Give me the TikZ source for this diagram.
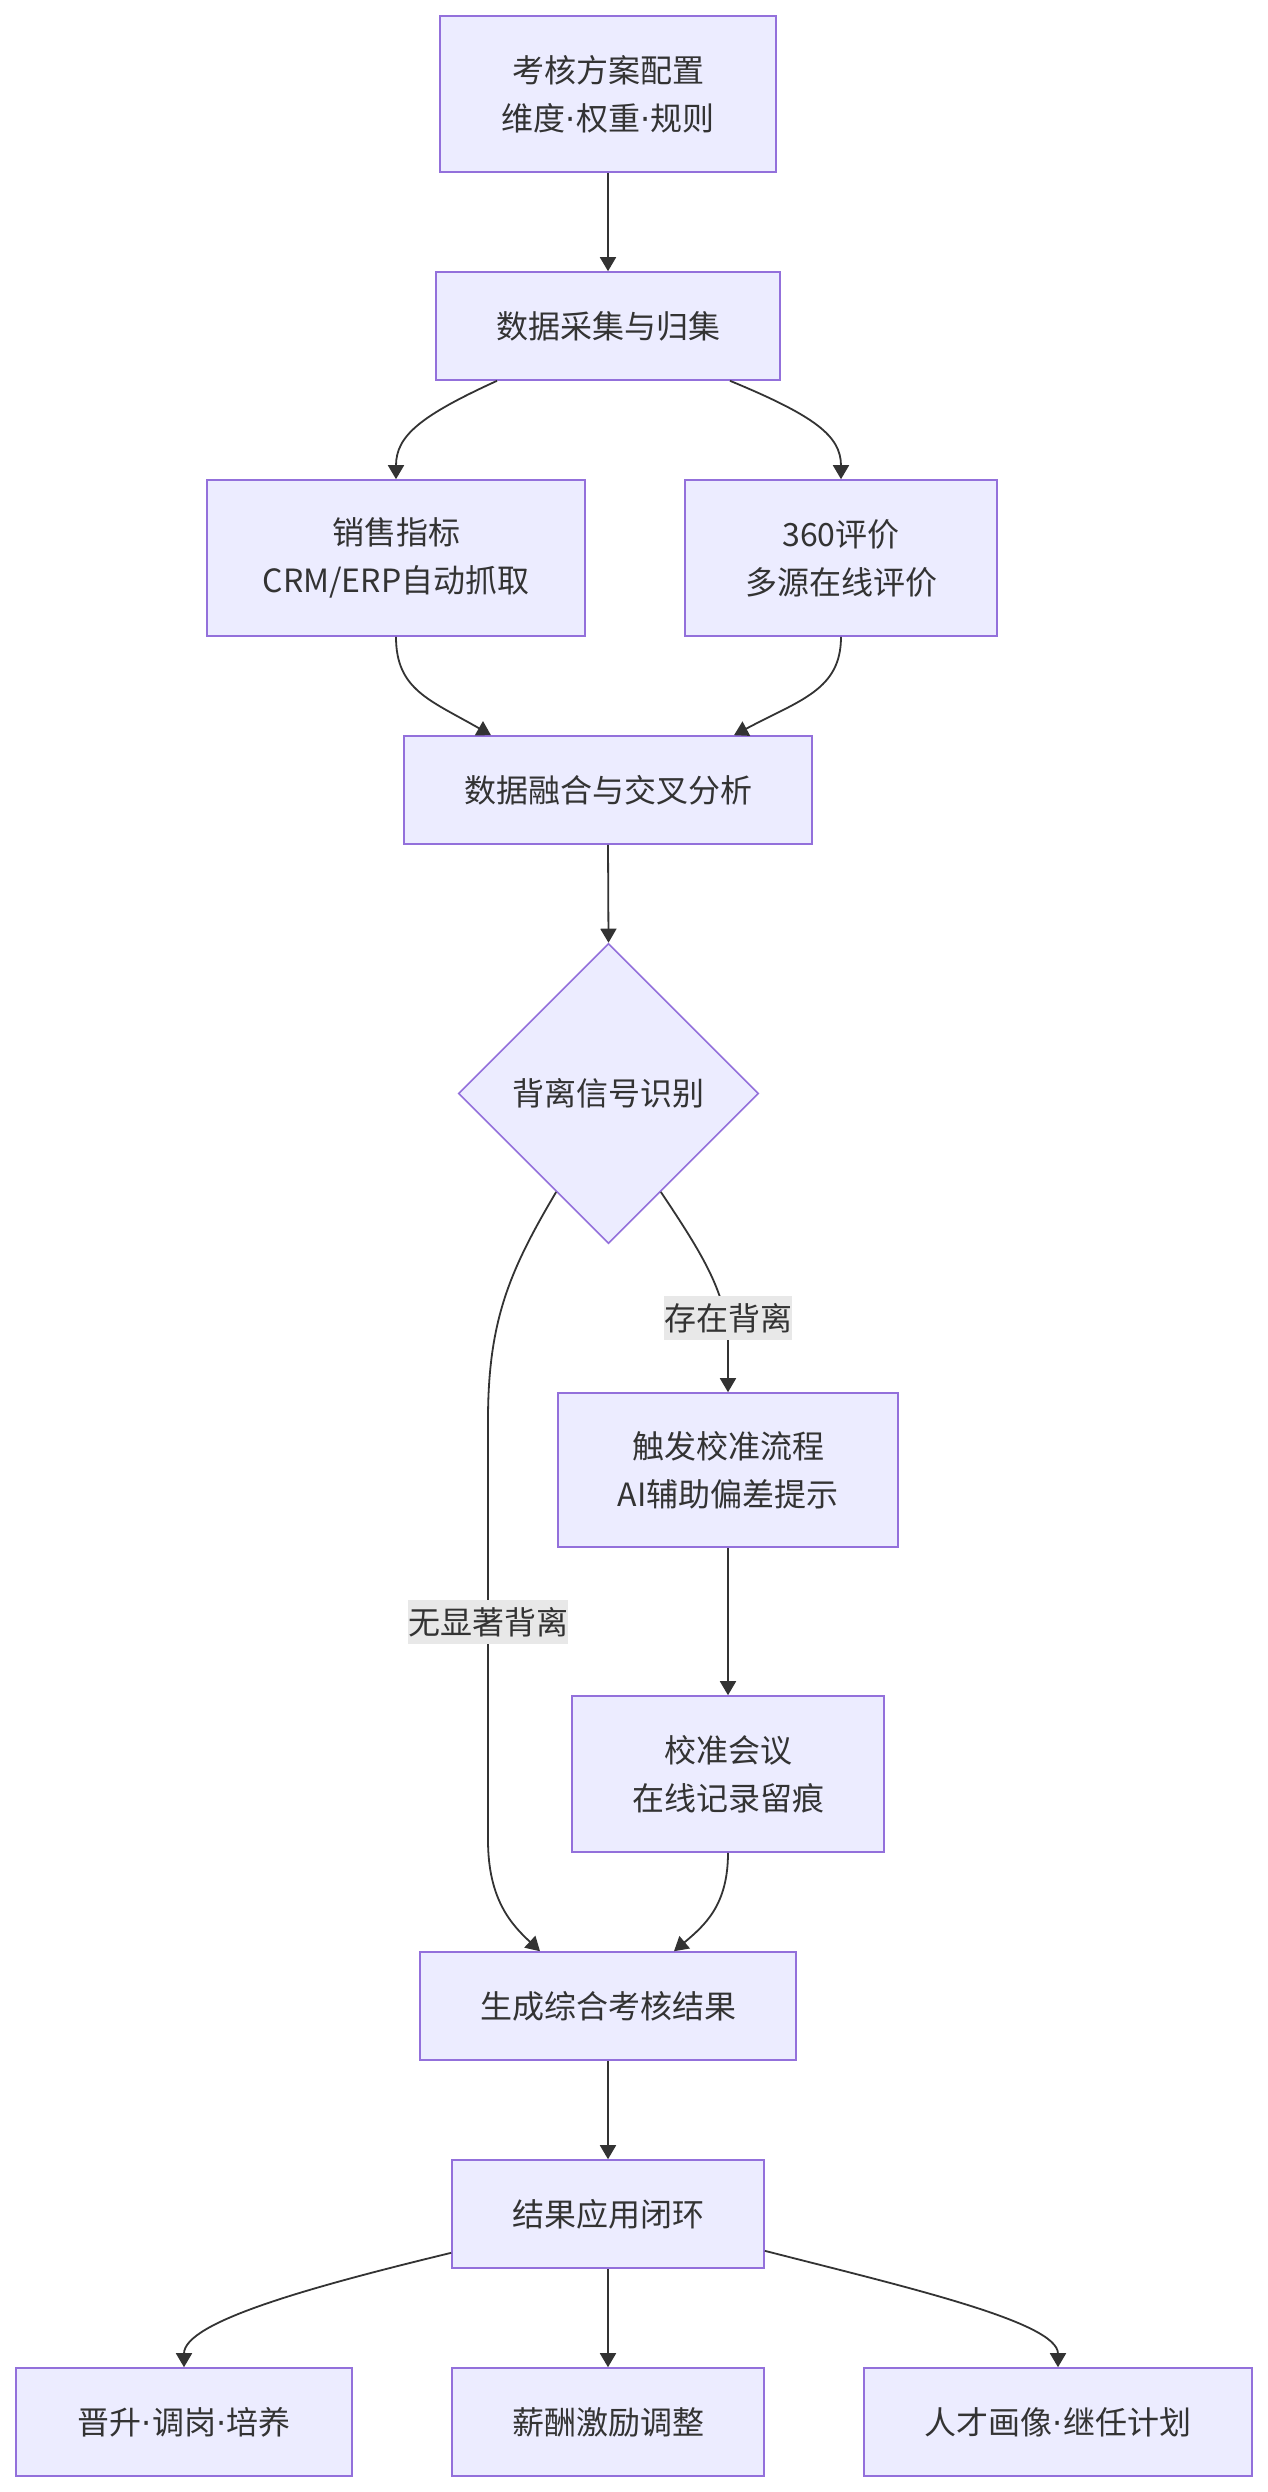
\documentclass[tikz,border=0pt]{standalone}
\usepackage{fontspec}
\setmainfont{Noto Sans CJK SC}
\newfontfamily\dotfont{DejaVu Sans}
\newcommand{\mydot}{{\dotfont ·}}
\usetikzlibrary{shapes.geometric,arrows.meta}
\definecolor{nodefill}{HTML}{ECECFF}
\definecolor{nodeline}{HTML}{9370DB}
\definecolor{ink}{HTML}{333333}
\definecolor{lblbg}{HTML}{E8E8E8}
\begin{document}
\begin{tikzpicture}[x=1pt,y=-1pt,
  box/.style={draw=nodeline, fill=nodefill, line width=1.6pt, inner sep=0pt,
    align=center, text=ink, font=\fontsize{32pt}{48pt}\selectfont},
  decide/.style={diamond, aspect=1, draw=nodeline, fill=nodefill, line width=1.6pt,
    inner sep=0pt, minimum width=300pt, minimum height=300pt, text=ink,
    font=\fontsize{32pt}{48pt}\selectfont},
  conn/.style={draw=ink, line width=1.8pt, -{Triangle[length=14pt,width=16pt]}},
  lbl/.style={fill=lblbg, inner xsep=0pt, inner ysep=7pt, text=ink,
    font=\fontsize{32pt}{48pt}\selectfont}]
\useasboundingbox (0,0) rectangle (1267,2492);
\fill[white] (0,0) rectangle (1267,2492);

\node[box, minimum width=336pt, minimum height=156pt] (n1) at (608,94) {考核方案配置\\维度\mydot 权重\mydot 规则};
\node[box, minimum width=344pt, minimum height=108pt] (n2) at (608,326) {数据采集与归集};
\node[box, minimum width=378pt, minimum height=156pt] (n3) at (396,558) {销售指标\\CRM/ERP自动抓取};
\node[box, minimum width=312pt, minimum height=156pt] (n4) at (841,558) {360评价\\多源在线评价};
\node[box, minimum width=408pt, minimum height=108pt] (n5) at (608,790) {数据融合与交叉分析};
\node[decide] (d) at (608.5,1093.5) {背离信号识别};
\node[box, minimum width=340pt, minimum height=154pt] (n6) at (728,1470) {触发校准流程\\AI辅助偏差提示};
\node[box, minimum width=312pt, minimum height=156pt] (n7) at (728,1774) {校准会议\\在线记录留痕};
\node[box, minimum width=376pt, minimum height=108pt] (n8) at (608,2006) {生成综合考核结果};
\node[box, minimum width=312pt, minimum height=108pt] (n9) at (608,2214) {结果应用闭环};
\node[box, minimum width=336pt, minimum height=108pt] (b1) at (184,2422) {晋升\mydot 调岗\mydot 培养};
\node[box, minimum width=312pt, minimum height=108pt] (b2) at (608,2422) {薪酬激励调整};
\node[box, minimum width=388pt, minimum height=108pt] (b3) at (1058,2422) {人才画像\mydot 继任计划};

\draw[conn] (n1.south) -- (n2.north);
\draw[conn] ([xshift=-111pt]n2.south) .. controls (420,416) and (396,436) .. (n3.north);
\draw[conn] ([xshift=122pt]n2.south) .. controls (815,416) and (841,436) .. (n4.north);
\draw[conn] (n3.south) .. controls (396,690) and (430,700) .. ([xshift=-117pt]n5.north);
\draw[conn] (n4.south) .. controls (841,690) and (800,700) .. ([xshift=126pt]n5.north);
\draw[conn] (n5.south) -- (d.north);
\draw[conn] (d.-62) .. controls (703,1255) and (728,1295) .. (728,1345) -- (n6.north);
\draw[conn] (d.-118) .. controls (510,1270) and (488,1320) .. (488,1420) -- (488,1840)
  .. controls (488,1900) and (512,1925) .. ([xshift=-68pt]n8.north);
\draw[conn] (n6.south) -- (n7.north);
\draw[conn] (n7.south) .. controls (728,1905) and (705,1925) .. ([xshift=66pt]n8.north);
\draw[conn] (n8.south) -- (n9.north);
\draw[conn] ([yshift=16pt]n9.south west) .. controls (310,2287) and (184,2322) .. (b1.north);
\draw[conn] (n9.south) -- (b2.north);
\draw[conn] ([yshift=18pt]n9.south east) .. controls (906,2287) and (1058,2322) .. (b3.north);

\node[lbl] (l1) at (728,1318) {存在背离};
\node[lbl] (l2) at (488,1622) {无显著背离};
\end{tikzpicture}
\end{document}
